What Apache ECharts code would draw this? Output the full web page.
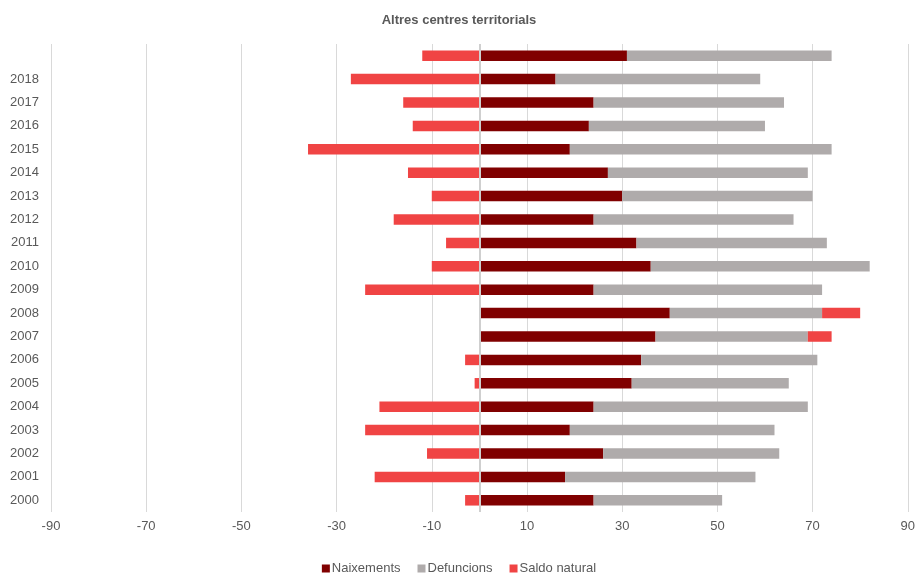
<!DOCTYPE html>
<html>
<head>
<meta charset="utf-8">
<title>Altres centres territorials</title>
<script src="https://cdn.jsdelivr.net/npm/echarts@6/dist/echarts.min.js"></script>
<style>
  html, body { margin: 0; padding: 0; background: #ffffff; }
  #chart { width: 918px; height: 573px; }
</style>
</head>
<body>
<div id="chart"></div>
<script>
// Years from bottom to top; the last row carries no label
const years = ['2000', '2001', '2002', '2003', '2004', '2005', '2006', '2007', '2008', '2009',
               '2010', '2011', '2012', '2013', '2014', '2015', '2016', '2017', '2018', ''];

const naixements = [24, 18, 26, 19, 24, 32, 34, 37, 40, 24, 36, 33, 24, 30, 27, 19, 23, 24, 16, 31];
const defuncions = [27, 40, 37, 43, 45, 33, 37, 32, 32, 48, 46, 40, 42, 40, 42, 55, 37, 40, 43, 43];
const saldoNatural = [-3, -22, -11, -24, -21, -1, -3, 5, 8, -24, -10, -7, -18, -10, -15, -36, -14, -16, -27, -12];

const FONT = '"Liberation Sans", Arial, sans-serif';
const TEXT = '#595959';

const chart = echarts.init(document.getElementById('chart'), null, { renderer: 'canvas' });

chart.setOption({
  animation: false,
  backgroundColor: '#ffffff',
  title: {
    text: 'Altres centres territorials',
    left: 'center',
    top: 9,
    textStyle: { fontFamily: FONT, fontSize: 13, fontWeight: 'bold', color: TEXT }
  },
  legend: {
    top: 557,
    left: 'center',
    icon: 'rect',
    itemWidth: 8,
    itemHeight: 8,
    itemGap: 17,
    textStyle: { fontFamily: FONT, fontSize: 13, color: TEXT, padding: [0, 0, 0, -3] },
    data: ['Naixements', 'Defuncions', 'Saldo natural']
  },
  grid: { left: 51, right: 10, top: 44, bottom: 61, containLabel: false },
  xAxis: {
    type: 'value',
    min: -90,
    max: 90,
    interval: 20,
    axisLine: { show: false },
    axisTick: { show: false },
    axisLabel: { fontFamily: FONT, fontSize: 13, color: TEXT, margin: 8 },
    splitLine: { show: true, lineStyle: { color: '#d9d9d9', width: 1 } }
  },
  yAxis: {
    type: 'category',
    data: years,
    axisLine: { show: false, onZero: false },
    axisTick: { show: false },
    axisLabel: { fontFamily: FONT, fontSize: 13, color: TEXT, margin: 12 },
    splitLine: { show: false }
  },
  series: [
    {
      name: 'Naixements',
      type: 'bar',
      stack: 'total',
      barWidth: '45%',
      itemStyle: { color: '#800000' },
      data: naixements,
      z: 3
    },
    {
      name: 'Defuncions',
      type: 'bar',
      stack: 'total',
      barWidth: '45%',
      itemStyle: { color: '#AFABAB' },
      data: defuncions,
      z: 3
    },
    {
      name: 'Saldo natural',
      type: 'bar',
      stack: 'total',
      barWidth: '45%',
      itemStyle: { color: '#F04444' },
      data: saldoNatural,
      z: 3,
      // vertical zero line of the category axis
      markLine: {
        silent: true,
        symbol: ['none', 'none'],
        label: { show: false },
        lineStyle: { color: '#cfcfcf', width: 2, type: 'solid' },
        data: [{ xAxis: 0 }],
        z: 4
      }
    }
  ]
});
</script>
</body>
</html>
